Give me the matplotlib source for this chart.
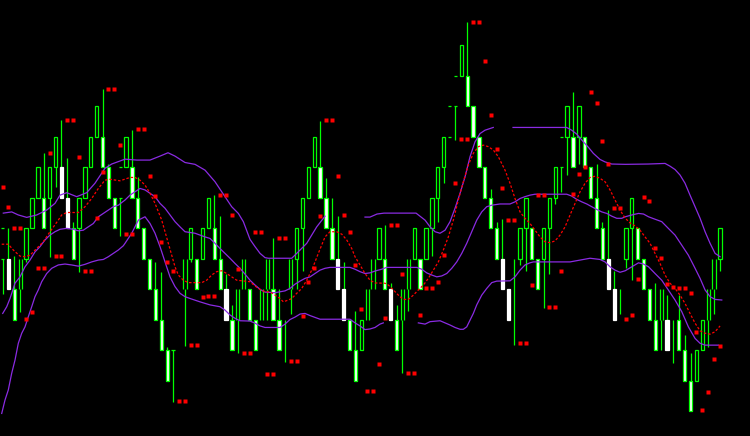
import matplotlib
matplotlib.use('Agg')
import matplotlib.pyplot as plt
import numpy as np

# ---- candles (x = bar index, prices in box units) ----
candle_idx = [0, 1, 2, 3, 4, 5, 6, 7, 8, 9, 10, 11, 12, 13, 14, 15, 16, 17, 18, 19,
              20, 21, 22, 23, 24, 25, 26, 27, 28, 29, 31, 32, 33, 34, 35, 36, 37, 38, 39,
              40, 41, 42, 43, 44, 45, 46, 47, 48, 49, 50, 51, 52, 53, 54, 55, 56, 57, 58, 59,
              60, 61, 62, 63, 64, 65, 66, 67, 68, 69, 70, 71, 72, 73, 74, 75, 76, 77, 78, 79,
              80, 81, 82, 83, 84, 85, 86, 87, 88, 89, 90, 91, 92, 93, 94, 95, 96, 97, 98, 99,
              100, 101, 102, 103, 104, 105, 106, 107, 108, 109, 110, 111, 112, 113, 114, 115,
              116, 117, 118, 119, 120, 121, 122]
candle_kind = list("XPWOHHHWHHPPWHHHHWWWXHWWWWWWWD"
                   "OHWHHWWPWOOWWOOWWVOHHHHWWWPPWWHOOHWPWOOHWHHHHXXHWWWWWWPPVHHWWHHHXHWHWWWWPPVHHWWWWOPVWWWHHOOH")
body_lo = [5, 4, 3, 4, 5, 6, 7, 6, 7, 8, 7, 6, 5, 6, 7, 8, 9, 8, 7, 6,
           7, 8, 7, 6, 5, 4, 3, 2, 1, 2, 4, 5, 4, 5, 6, 5, 4, 3, 2,
           3, 4, 3, 2, 3, 4, 3, 2, 3, 4, 5, 6, 7, 8, 7, 6, 5, 4, 3, 2,
           1, 2, 3, 4, 5, 4, 3, 2, 3, 4, 5, 4, 5, 6, 7, 8, 9, 10, 11, 10,
           9, 8, 7, 6, 5, 4, 3, 5, 5, 6, 5, 4, 5, 6, 7, 8, 9, 8, 9, 8,
           7, 6, 5, 4, 3, 4, 5, 6, 5, 4, 3, 2, 3, 2, 3, 2,
           1, 0, 1, 2, 3, 4, 5]
body_hi = [6, 5, 4, 5, 6, 7, 8, 7, 8, 9, 8, 7, 6, 7, 8, 9, 10, 9, 8, 7,
           8, 9, 8, 7, 6, 5, 4, 3, 2, 2, 5, 6, 5, 6, 7, 6, 5, 4, 3,
           4, 5, 4, 3, 4, 5, 4, 3, 3, 5, 6, 7, 8, 9, 8, 7, 6, 5, 4, 3,
           2, 3, 4, 5, 6, 5, 4, 3, 4, 5, 6, 5, 6, 7, 8, 9, 10, 11, 12, 11,
           10, 9, 8, 7, 6, 5, 4, 5, 6, 7, 6, 5, 6, 7, 8, 9, 10, 9, 10, 9,
           8, 7, 6, 5, 4, 4, 6, 7, 6, 5, 4, 3, 4, 3, 3, 3,
           2, 1, 2, 3, 4, 5, 6]
low = [3.85, 4, 3, 3.25, 4.9, 6, 7, 6, 5.07, 7.37, 7, 6, 5, 4.58, 7, 8, 9, 8, 7, 6,
       5.76, 8, 7, 6, 5, 4, 3, 2, 1, 0.31, 2.15, 4.9, 4, 5, 6, 5, 4, 3, 2,
       1.9, 4, 3, 2, 3, 3, 3, 2, 1.63, 3.2, 4, 4.6, 7, 8, 7, 6, 5, 4, 3, 2,
       1, 2, 3, 4, 5, 4, 3, 2, 1.26, 3.3, 5, 4, 5, 5.1, 6.2, 7.5, 9, 8.9, 11, 10,
       9, 8, 7, 6, 5, 4, 3, 2.16, 4.8, 4.6, 5, 4, 3.38, 4.5, 6.8, 7.2, 7.75, 8, 8.1, 8,
       7, 6, 5, 4, 3, 3.2, 4.7, 4.3, 5, 4, 3, 2, 2, 2, 1.6, 2,
       1, 0, 1, 2, 2.1, 3.2, 4.6]
high = [6, 6, 5.1, 5, 6, 7, 8, 8.46, 8, 9, 9.55, 8.3, 6.2, 7, 8, 9, 10, 10.57, 8.1, 7,
        8, 9, 9.22, 7.7, 6, 5, 4.9, 4.57, 2.1, 2, 5, 6, 5, 6, 7, 7.1, 6.4, 4.5, 3.5,
        4, 5, 4, 3, 4, 5, 5.7, 4, 3, 5, 6, 7, 8, 9, 9.52, 7.65, 7, 6.4, 4.9, 3,
        3.3, 3, 4, 5, 6, 6.1, 4.2, 3.5, 4, 5, 6, 5, 6, 7, 8, 9, 10, 11, 12, 12.76,
        10, 9, 8, 7.3, 6.2, 6.3, 4, 5, 6, 7, 6, 5, 6, 7, 8, 9, 10, 10.46, 10, 9,
        8, 8.1, 6.2, 6.6, 4.6, 4, 6, 7, 6, 5, 4, 4.2, 4, 3.8, 3, 3.8,
        2.5, 1.9, 2, 3, 4, 5, 6]

nan = np.nan
# ---- upper purple line ----
upper_x = [0.12, 1.55, 2.67, 4.10, 5.80, 7.50, 8.91, 9.76, 10.90, 12.60, 14.30, 15.71, 17.41,
           18.55, 20.82, 22.81, 25.07, 26.77, 28.13, 29.32, 31.02, 32.72, 34.42, 36.12, 37.82,
           38.96, 40.09, 40.94, 42.07, 42.93, 43.78, 44.63, 45.19, 49.17, 50.02, 51.72, 53.42,
           54.83, 58.0, 61.63, 62.48, 63.67, 64.86, 70.31, 71.84, 72.69, 73.54, 74.39, 75.24,
           76.09, 76.94, 77.79, 78.64, 79.49, 80.34, 81.19, 82.04, 83.44, 85.0, 86.80, 95.93,
           96.78, 97.64, 98.76, 99.61, 100.46, 101.60, 102.45, 103.59, 105.88, 109.77, 112.65,
           113.50, 114.35, 115.20, 116.05, 116.90, 117.76, 118.61, 119.46, 120.31, 121.16, 122.01]
upper_y = [6.50, 6.54, 6.44, 6.36, 6.44, 6.60, 6.82, 7.09, 7.17, 7.04, 7.17, 7.48, 7.97,
           8.11, 8.27, 8.24, 8.24, 8.37, 8.48, 8.37, 8.16, 8.10, 7.91, 7.53, 7.04,
           6.71, 6.49, 6.22, 5.64, 5.40, 5.18, 5.04, 5.02, 5.02, 5.18, 5.51, 6.05,
           6.40, nan, 6.37, 6.37, 6.47, 6.50, 6.50, 6.27, 6.05, 5.89, 5.84, 5.94,
           6.22, 6.66, 7.15, 7.69, 8.35, 8.84, 9.11, 9.22, 9.31, nan, 9.31, 9.31,
           9.22, 9.09, 8.84, 8.66, 8.46, 8.26, 8.18, 8.11, 8.10, 8.11, 8.13,
           8.04, 7.93, 7.75, 7.48, 7.09, 6.71, 6.33, 5.89, 5.51, 5.18, 5.07]

# ---- middle purple line ----
middle_x = [0.02, 0.70, 1.26, 2.11, 2.96, 3.81, 4.66, 5.51, 6.36, 7.21, 8.06, 8.91, 9.76, 10.90,
            12.02, 12.87, 13.72, 14.57, 15.43, 16.28, 17.13, 17.98, 18.83, 19.68, 20.82, 21.67,
            22.52, 23.37, 24.22, 25.07, 25.92, 26.77, 27.62, 28.47, 29.32, 30.17, 31.02, 32.72,
            34.42, 35.27, 36.12, 36.97, 37.82, 38.67, 39.52, 40.37, 41.22, 42.07, 42.93, 43.78,
            44.63, 46.33, 48.03, 48.88, 49.73, 50.58, 51.43, 52.28, 53.13, 53.98, 54.83, 55.68,
            59.08, 59.93, 60.78, 61.63, 62.48, 63.33, 64.47, 65.32, 70.42, 71.28, 72.13, 72.98,
            73.83, 74.68, 75.53, 76.38, 77.23, 78.08, 78.93, 79.78, 80.63, 81.48, 82.33, 83.18,
            84.59, 86.29, 87.14, 87.99, 88.84, 89.69, 90.54, 95.93, 96.78, 97.64, 98.49, 99.34,
            100.19, 101.04, 101.89, 102.74, 103.59, 104.44, 105.29, 105.88, 107.01, 108.14,
            108.99, 109.84, 110.95, 112.09, 113.21, 114.35, 115.49, 116.62, 117.76, 118.61,
            119.46, 120.31, 121.16, 122.30]
middle_y = [3.21, 3.43, 3.70, 4.20, 4.41, 4.74, 4.96, 5.23, 5.40, 5.62, 5.78, 5.89, 5.97, 6.00,
            5.97, 5.92, 5.94, 6.05, 6.16, 6.38, 6.49, 6.60, 6.71, 6.76, 6.93, 7.09,
            7.20, 7.31, 7.26, 7.15, 7.04, 6.82, 6.66, 6.44, 6.22, 6.05, 5.89, 5.84,
            5.72, 5.67, 5.51, 5.34, 5.18, 5.02, 4.85, 4.69, 4.50, 4.30, 4.14, 4.00,
            3.91, 3.89, 3.95, 4.03, 4.17, 4.27, 4.36, 4.41, 4.52, 4.63, 4.69, 4.72,
            4.72, 4.66, 4.58, 4.52, 4.54, 4.60, 4.66, 4.72, 4.72, 4.66, 4.54, 4.47,
            4.41, 4.44, 4.52, 4.69, 4.90, 5.18, 5.51, 5.89, 6.27, 6.54, 6.71, 6.76,
            6.80, 6.80, 6.87, 6.98, 7.04, 7.09, 7.12, 7.12, 7.06, 6.95, 6.87, 6.80,
            6.71, 6.62, 6.54, 6.49, 6.40, 6.33, 6.33, 6.38, 6.44, 6.49,
            6.47, 6.38, 6.30, 6.22, 6.00, 5.78, 5.45, 5.12, 4.69, 4.36,
            3.98, 3.76, 3.67, 3.65]

# ---- lower purple line ----
lower_x = [-0.15, 0.41, 0.97, 1.55, 2.11, 2.67, 3.25, 3.81, 4.37, 4.95, 5.51, 6.07, 6.65, 7.50,
           8.35, 9.47, 10.61, 11.75, 12.87, 14.01, 15.15, 16.28, 17.13, 17.98, 18.83, 19.68,
           20.53, 20.82, 21.96, 23.08, 24.22, 25.07, 25.92, 26.77, 27.62, 28.47, 29.32, 30.17,
           31.02, 31.87, 33.57, 35.27, 36.97, 37.82, 38.67, 39.52, 40.37, 42.07, 42.93, 43.78,
           44.63, 47.19, 48.03, 48.88, 49.73, 50.58, 51.43, 52.28, 53.13, 53.98, 59.08, 59.93,
           60.78, 61.63, 62.48, 63.33, 64.18, 64.74, 67.0, 70.70, 71.84, 72.69, 74.39, 75.24,
           76.09, 76.94, 77.79, 78.35, 78.93, 79.49, 80.05, 80.63, 81.48, 82.33, 83.18, 84.03,
           86.29, 87.14, 87.99, 88.84, 89.69, 90.26, 96.50, 98.20, 99.90, 101.60, 102.45, 103.30,
           104.15, 105.00, 105.88, 107.01, 108.14, 108.99, 109.84, 110.95, 112.09, 113.21,
           114.35, 115.49, 116.62, 117.76, 118.61, 119.46, 121.72]
lower_y = [-0.07, 0.37, 0.70, 1.25, 1.68, 2.23, 2.56, 2.77, 3.10, 3.43, 3.76, 3.98, 4.25, 4.52,
           4.69, 4.80, 4.83, 4.80, 4.76, 4.82, 4.90, 4.96, 4.98, 5.07, 5.18, 5.29,
           5.43, 5.51, 5.84, 6.27, 6.38, 6.16, 5.84, 5.40, 4.90, 4.41, 4.09, 3.87,
           3.76, 3.70, 3.59, 3.49, 3.43, 3.32, 3.16, 3.05, 2.97, 2.96, 2.89, 2.80,
           2.75, 2.75, 2.86, 3.01, 3.09, 3.19, 3.21, 3.14, 3.08, 3.02, 3.02, 2.90,
           2.80, 2.68, 2.70, 2.75, 2.86, 2.90, nan, 2.90, 2.86, 2.94, 2.97, 2.90,
           2.83, 2.75, 2.69, 2.69, 2.77, 2.99, 3.21, 3.49, 3.81, 4.03, 4.22, 4.27,
           4.28, 4.41, 4.63, 4.80, 4.87, 4.90, 4.90, 4.96, 5.02, 4.98, 4.90, 4.74,
           4.63, 4.56, 4.61, 4.74, 4.87, 4.83, 4.74, 4.52, 4.30, 3.98,
           3.65, 3.27, 2.77, 2.39, 2.23, 2.17, 2.17]

# ---- red moving average ----
ma_x = [-0.15, 0.97, 1.82, 2.96, 3.81, 4.66, 5.80, 6.92, 8.06, 9.47, 10.05, 10.90, 12.87, 14.01,
        15.15, 16.28, 17.41, 18.27, 19.97, 21.67, 22.52, 23.37, 24.22, 25.07, 25.92, 27.06,
        28.18, 29.32, 29.88, 30.73, 31.58, 33.86, 34.71, 35.56, 36.41, 37.26, 38.11, 38.96,
        39.81, 42.07, 42.93, 43.78, 44.63, 45.48, 46.33, 47.18, 47.74, 48.59, 49.17, 50.02,
        50.87, 51.72, 52.57, 53.13, 53.69, 54.27, 54.83, 55.68, 56.82, 57.67, 58.52, 59.37,
        59.93, 60.78, 61.63, 62.48, 63.33, 65.03, 65.60, 66.45, 67.30, 68.15, 69.00, 69.85,
        70.70, 71.55, 72.40, 73.25, 74.10, 74.95, 75.80, 76.65, 77.50, 78.35, 79.20, 80.05,
        80.90, 81.75, 82.60, 83.45, 84.30, 85.44, 86.29, 87.14, 87.99, 88.84, 89.69, 90.54,
        91.39, 92.24, 93.09, 93.95, 94.80, 95.65, 96.50, 97.35, 98.20, 99.05, 99.90, 100.75,
        101.60, 102.45, 103.30, 104.15, 105.00, 105.85, 106.70, 107.56, 108.40, 109.25,
        110.10, 110.95, 111.80, 112.65, 113.50, 114.35, 115.20, 116.05, 116.90, 117.76,
        118.61, 119.46, 120.31, 121.16, 122.01]
ma_y = [5.48, 5.48, 5.29, 5.09, 5.07, 5.12, 5.34, 5.56, 5.89, 6.27, 6.44, 6.52, 6.52, 6.71,
        6.98, 7.31, 7.58, 7.61, 7.56, 7.67, 7.67, 7.58, 7.42, 7.15, 6.82, 6.27,
        5.51, 4.74, 4.47, 4.30, 4.22, 4.22, 4.30, 4.47, 4.58, 4.61, 4.52, 4.41,
        4.30, 4.25, 4.11, 4.00, 3.92, 3.92, 3.81, 3.70, 3.59, 3.65, 3.70, 3.87,
        4.03, 4.30, 4.63, 4.90, 5.18, 5.45, 5.72, 5.89, 5.89, 5.81, 5.62, 5.34,
        5.07, 4.80, 4.52, 4.30, 4.21, 4.20, 4.14, 3.98, 3.81, 3.67, 3.67, 3.81,
        3.98, 4.14, 4.36, 4.63, 4.90, 5.29, 5.72, 6.27, 6.93, 7.53, 8.08, 8.46,
        8.68, 8.73, 8.68, 8.57, 8.35, 7.91, 7.48, 6.98, 6.54, 6.33, 6.16, 5.94,
        5.72, 5.56, 5.53, 5.59, 5.78, 6.05, 6.44, 6.82, 7.20, 7.48, 7.67, 7.71,
        7.64, 7.53, 7.26, 6.93, 6.60, 6.34, 6.18, 6.08, 5.94, 5.72,
        5.51, 5.18, 4.85, 4.47, 4.20, 4.03, 3.81, 3.54, 3.21, 2.89,
        2.64, 2.56, 2.53, 2.61, 2.80]

# ---- red square markers (one per bar) ----
dot_idx = [0, 1, 2, 3, 4, 5, 6, 7, 8, 9, 10, 11, 12, 13, 14, 15, 16, 17, 18, 19,
           20, 21, 22, 23, 24, 25, 26, 27, 28, 29, 30, 31, 32, 33, 34, 35, 36, 37, 38, 39,
           40, 41, 42, 43, 44, 45, 46, 47, 48, 49, 50, 51, 52, 53, 54, 55, 56, 57, 58, 59,
           60, 61, 62, 63, 64, 65, 66, 67, 68, 69, 70, 71, 72, 73, 74, 75, 77, 78, 79,
           80, 81, 82, 83, 84, 85, 86, 87, 88, 89, 90, 91, 92, 93, 94, 95, 97, 98, 99,
           100, 101, 102, 103, 104, 105, 106, 107, 108, 109, 110, 111, 112, 113, 114, 115,
           116, 117, 118, 119, 120, 121, 122]
dot_val = [7.36, 6.71, 6.02, 6.02, 3.04, 3.27, 4.71, 4.71, 8.48, 5.10, 5.10, 9.55, 9.55, 8.35,
           4.61, 4.61, 6.35, 7.84, 10.57, 10.57, 8.74, 5.80, 5.80, 9.27, 9.27, 7.72, 7.07, 5.56,
           4.90, 4.61, 0.35, 0.35, 2.18, 2.18, 3.76, 3.78, 3.78, 7.10, 7.10, 6.44,
           4.68, 1.92, 1.92, 5.89, 5.89, 1.21, 1.21, 5.70, 5.70, 1.66, 1.66, 3.13, 4.23, 4.71,
           6.41, 9.54, 9.54, 7.71, 6.44, 5.89, 4.80, 3.34, 0.67, 0.67, 1.55, 3.07, 6.11, 6.11,
           4.50, 1.27, 1.27, 3.16, 4.05, 4.05, 4.23, 5.12, 7.50, 8.92, 8.92,
           12.76, 12.76, 11.49, 9.71, 8.60, 7.34, 6.27, 6.27, 2.23, 2.23, 4.14, 7.08, 7.08,
           3.41, 3.41, 4.61, 7.12, 7.78, 8.02,
           10.47, 10.10, 8.87, 8.11, 6.68, 6.68, 3.04, 3.16, 4.33, 7.04, 6.90, 5.36, 5.03,
           4.17, 4.07, 4.04, 4.04, 3.87, 2.60, 0.04, 0.63, 1.72, 2.14]

GREEN = '#00ff00'
PURPLE = '#8a2be2'
RED = '#ff0000'

fig = plt.figure(figsize=(7.5, 4.36), dpi=100, facecolor='black')
ax = fig.add_axes([0, 0, 1, 1])
ax.set_facecolor('black')
ax.set_xlim(-0.442, 127.1)
ax.set_ylim(-0.81, 13.49)
ax.axis('off')

w = 0.56
lw = 0.9
for k, kind, bl, bh, lo, hi in zip(candle_idx, candle_kind, body_lo, body_hi, low, high):
    if kind in 'WPH':
        if lo < bl:
            ax.vlines(k, lo, bl, color=GREEN, lw=lw, zorder=1)
        if hi > bh:
            ax.vlines(k, bh, hi, color=GREEN, lw=lw, zorder=1)
        if kind == 'W':
            fc, ec = 'white', GREEN
        elif kind == 'P':
            fc, ec = 'white', 'white'
        else:
            fc, ec = 'none', GREEN
        ax.bar(k, bh - bl, bottom=bl, width=w, facecolor=fc, edgecolor=ec,
               linewidth=lw, zorder=2)
    elif kind == 'O':
        ax.vlines([k - w / 2, k + w / 2], bl, bh, color=GREEN, lw=lw, zorder=1)
        if lo < bl:
            ax.vlines(k, lo, bl, color=GREEN, lw=lw, zorder=1)
        if hi > bh:
            ax.vlines(k, bh, hi, color=GREEN, lw=lw, zorder=1)
    elif kind == 'X':
        ax.hlines([bl, bh], k - w / 2, k + w / 2, color=GREEN, lw=lw, zorder=1)
        if lo < bl:
            ax.vlines(k, lo, bl, color=GREEN, lw=lw, zorder=1)
    elif kind == 'D':
        ax.hlines(bh, k - w / 2, k + w / 2, color=GREEN, lw=lw, zorder=1)
        ax.vlines(k, lo, hi, color=GREEN, lw=lw, zorder=1)
    else:  # 'V'
        ax.vlines(k, lo, hi, color=GREEN, lw=lw, zorder=1)

for xs, ys in ((upper_x, upper_y), (middle_x, middle_y), (lower_x, lower_y)):
    ax.plot(xs, ys, color=PURPLE, lw=0.9, zorder=3)

ax.plot(ma_x, ma_y, color=RED, lw=0.9, ls=(0, (2, 1.5)), zorder=3)
ax.plot(dot_idx, dot_val, 's', color=RED, ms=2.6, mec='none', zorder=4)

fig.savefig('out.png', dpi=100, facecolor='black')
